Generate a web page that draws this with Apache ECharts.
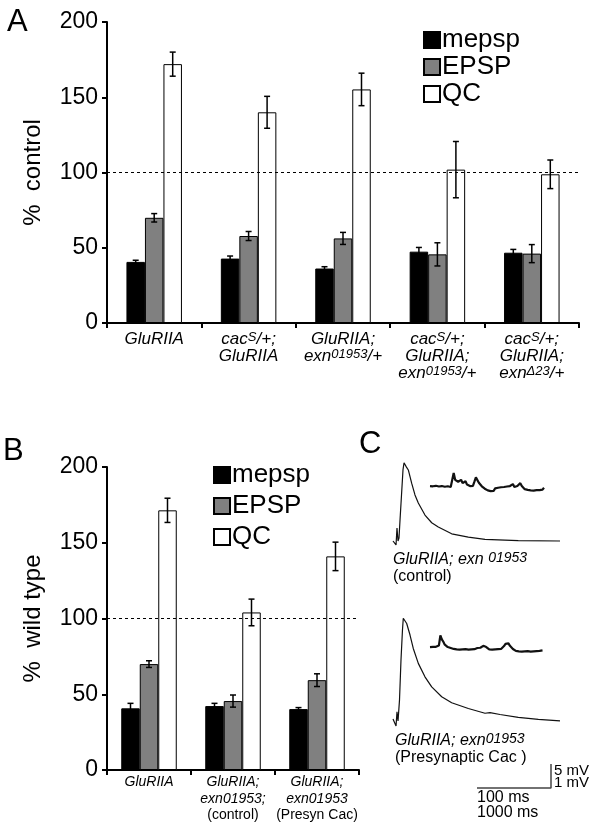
<!DOCTYPE html>
<html><head><meta charset="utf-8">
<script src="https://cdn.jsdelivr.net/npm/echarts@6/dist/echarts.min.js"></script>
<style>html,body{margin:0;padding:0;background:#fff}#c{width:602px;height:832px}</style>
</head><body><div id="c"></div>
<script>
// ---------- DATA ----------
const seriesNames = ['mepsp', 'EPSP', 'QC'];
// Panel A (% control); '^' marks a superscript run
const catsA = ['GluRIIA', 'cac^S/+;\nGluRIIA', 'GluRIIA;\nexn^01953/+', 'cac^S/+;\nGluRIIA;\nexn^01953/+', 'cac^S/+;\nGluRIIA;\nexn^Δ23/+'];
const mepspA = [40.6, 42.8, 36.2, 47.4, 46.7];
const mepspErrA = [1.1, 1.7, 1.2, 2.8, 2.2];
const epspA = [69.9, 57.8, 56.2, 45.6, 46.1];
const epspErrA = [2.8, 3.0, 4.0, 7.7, 6.0];
const qcA = [172, 140, 155.2, 101.9, 98.8];
const qcErrA = [8, 10.6, 10.8, 18.7, 9.5];
// Panel B (% wild type)
const catsB = ['GluRIIA', 'GluRIIA;\nexn01953;\n(control)', 'GluRIIA;\nexn01953\n(Presyn Cac)'];
const mepspB = [40.7, 42.2, 40.2];
const mepspErrB = [3.3, 1.8, 1.0];
const epspB = [69.9, 45.5, 59.3];
const epspErrB = [2.2, 4.0, 4.2];
const qcB = [171.4, 104, 141];
const qcErrB = [8, 8.8, 9.4];
const yMin = 0, yMax = 200, yStep = 50;
const refLevel = 100;
// Panel C traces: evoked EPSPs (ms, mV)
const epsp1Ms = [0, 2.7, 4.1, 5.4, 6.8, 8.1, 9.5, 11.5, 13.5, 14.9, 16.2, 18.2, 20.7, 25.3, 29.7, 34.2, 43.2, 52.3, 61.2, 79.3, 101.8, 124.3, 169.3, 225.7];
const epsp1Mv = [0, 0, -0.83, 2.7, 0, 0.6, 4.4, 9.6, 14.8, 16.3, 16.0, 15.4, 14.8, 12.0, 9.6, 7.9, 5.4, 3.8, 2.9, 1.5, 0.8, 0.35, 0.06, 0];
const epsp2Ms = [0, 2.7, 4.1, 5.4, 6.8, 8.8, 10.8, 12.8, 13.9, 15.5, 18.5, 23.0, 27.4, 34.2, 43.2, 52.3, 65.8, 79.3, 101.8, 124.3, 131.1, 144.6, 169.3, 196.4, 225.7];
const epsp2Mv = [0.2, 0.4, -1.25, 1.7, -0.2, 4.2, 12.5, 18.75, 21.2, 21.0, 20.1, 17.7, 14.9, 11.8, 9.0, 6.9, 4.85, 3.6, 2.4, 1.4, 1.55, 1.15, 0.55, 0.15, -0.2];
// spontaneous minis, sampled every miniStepMs (mV)
const miniStepMs = 20;
const mini1Mv = [0.04,-0.04,0.03,-0.05,0.05,-0.03,0.02,-0.06,0.04,-0.04,0.01,-0.07,0.03,-0.05,0.0,-0.03,
  0.58,0.3,0.38,0.22,0.19,0.3,0.16,0.22,0.24,0.1,0.12,0.04,0.07,0.05,0.22,0.4,0.32,0.18,0.14,0.03,0.04,-0.07,-0.05,-0.14,
  -0.12,-0.17,-0.1,-0.16,-0.06,-0.12,-0.03,-0.1,-0.01,-0.09,0.0,-0.07,0.02,-0.05,0.04,0.03,0.12,0.0,-0.04,0.04,
  0.09,0.16,0.04,-0.01,-0.09,-0.07,-0.12,-0.06,-0.14,-0.08,-0.15,-0.07,-0.13,-0.06,-0.13,-0.05,-0.11,-0.03];
const mini2Mv = [0.04,-0.04,0.05,-0.03,0.05,-0.02,0.1,0.52,0.36,0.26,0.14,0.13,0.04,0.09,0.0,0.05,-0.04,0.02,-0.06,0.01,
  -0.07,0.0,-0.06,0.02,-0.05,0.01,-0.07,0.0,-0.06,0.02,-0.05,-0.07,0.0,-0.06,0.01,0.03,0.09,0.14,0.04,0.01,
  -0.06,0.0,-0.07,-0.01,-0.06,0.0,-0.05,0.01,-0.04,0.03,0.08,0.17,0.25,0.19,0.09,0.05,-0.04,-0.05,-0.12,-0.07,
  -0.14,-0.08,-0.15,-0.08,-0.14,-0.07,-0.13,-0.08,-0.15,-0.08,-0.14,-0.07,-0.13,-0.06,-0.12,-0.05,-0.1];
// scale bar
const barMs = 100, barMv = 5;
const barLabelsV = ['5 mV', '1 mV'];
const barLabelsH = ['100 ms', '1000 ms'];
const labelC1 = ['GluRIIA; exn ', '01953', '(control)'];
const labelC2 = ['GluRIIA; exn', '01953', '(Presynaptic Cac )'];

// ---------- CHART ----------
const F = '"Liberation Sans", Arial, Helvetica, sans-serif';
const BW = 18.5;
const colors = ['#000000', '#808080', '#ffffff'];

function toRich(label) {
  return label.split('\n').map(line => {
    if (line.startsWith('(')) return '{n|' + line + '}';
    return line.split(/\^([^\/;]+)/).map((p, k) => p === '' ? '' : (k % 2 ? '{s|' + p + '}' : '{i|' + p + '}')).join('');
  }).join('\n');
}

function errSeries(name, means, errs, k, xi) {
  return {
    type: 'custom', name: name + ' err', xAxisIndex: xi, yAxisIndex: xi, z: 5, silent: true,
    data: means.map((m, i) => [i, m - errs[i], m + errs[i]]),
    renderItem: (params, api) => {
      const c = api.coord([api.value(0), api.value(1)]);
      const h = api.coord([api.value(0), api.value(2)]);
      const x = c[0] + (k - 1) * BW;
      const st = { stroke: '#000', lineWidth: 1.5 };
      return { type: 'group', children: [
        { type: 'line', shape: { x1: x, y1: c[1], x2: x, y2: h[1] }, style: st },
        { type: 'line', shape: { x1: x - 3, y1: c[1], x2: x + 3, y2: c[1] }, style: st },
        { type: 'line', shape: { x1: x - 3, y1: h[1], x2: x + 3, y2: h[1] }, style: st }
      ] };
    }
  };
}

function barSeries(name, data, k, xi) {
  return {
    type: 'bar', name: name, xAxisIndex: xi, yAxisIndex: xi, data: data, barWidth: BW, barGap: '0%',
    itemStyle: { color: colors[k], borderColor: '#000', borderWidth: 1 }
  };
}

function refLineSeries(xi) {
  return {
    type: 'line', xAxisIndex: xi, yAxisIndex: xi, data: [], z: 6,
    markLine: { silent: true, symbol: ['none', 'none'], label: { show: false },
      lineStyle: { color: '#000', type: [3, 3], width: 1 }, data: [{ yAxis: refLevel }] }
  };
}

function catAxis(gi, cats, fs, lh, margin) {
  return {
    type: 'category', gridIndex: gi, data: cats,
    axisLine: { lineStyle: { color: '#000', width: 2 } },
    axisTick: { show: true, length: 5, lineStyle: { color: '#000', width: 2 } },
    axisLabel: { interval: 0, hideOverlap: false, margin: margin, formatter: v => toRich(v), color: '#000', align: 'center',
      rich: {
        i: { fontFamily: F, fontStyle: 'italic', fontSize: fs, lineHeight: lh, color: '#000', align: 'center' },
        s: { fontFamily: F, fontStyle: 'italic', fontSize: Math.round(fs * 0.75), lineHeight: 9, verticalAlign: 'top', color: '#000', align: 'center' },
        n: { fontFamily: F, fontSize: fs, lineHeight: lh, color: '#000', align: 'center' }
      } }
  };
}
function valAxis(gi, name) {
  return {
    type: 'value', gridIndex: gi, min: yMin, max: yMax, interval: yStep,
    name: name, nameLocation: 'middle', nameGap: 62, nameRotate: 90,
    nameTextStyle: { fontFamily: F, fontSize: 24, color: '#000' },
    splitLine: { show: false },
    axisLine: { show: true, lineStyle: { color: '#000', width: 2 } },
    axisTick: { show: true, length: 5, lineStyle: { color: '#000', width: 2 } },
    axisLabel: { fontFamily: F, fontSize: 23, color: '#000', margin: 9 }
  };
}
function hidden(gi, min, max) { return { type: 'value', gridIndex: gi, min: min, max: max, show: false }; }
function trace(gi, pts, w) {
  return { type: 'line', xAxisIndex: gi, yAxisIndex: gi, data: pts, symbol: 'none', clip: false,
    lineStyle: { color: '#111', width: w }, silent: true };
}

const miniPts = arr => arr.map((v, i) => [i * miniStepMs, v]);
const tStyle = { fontFamily: F, fontSize: 31, fontWeight: 'normal', color: '#000' };
const cRich = {
  i: { fontFamily: F, fontStyle: 'italic', fontWeight: 'normal', fontSize: 16, lineHeight: 17, color: '#000' },
  s: { fontFamily: F, fontStyle: 'italic', fontWeight: 'normal', fontSize: 14, lineHeight: 10, verticalAlign: 'top', color: '#000' },
  n: { fontFamily: F, fontWeight: 'normal', fontSize: 16, lineHeight: 17, color: '#000' }
};

const option = {
  animation: false,
  backgroundColor: '#fff',
  title: [
    { text: 'A', left: 7, top: 7, padding: 0, textStyle: tStyle },
    { text: 'B', left: 3, top: 436, padding: 0, textStyle: tStyle },
    { text: 'C', left: 359, top: 429, padding: 0, textStyle: tStyle },
    { text: '{i|' + labelC1[0] + '}{s|' + labelC1[1] + '}\n{n|' + labelC1[2] + '}', left: 393, top: 551, padding: 0, textStyle: { fontWeight: 'normal', rich: cRich } },
    { text: '{i|' + labelC2[0] + '}{s|' + labelC2[1] + '}\n{n|' + labelC2[2] + '}', left: 395, top: 732, padding: 0, textStyle: { fontWeight: 'normal', rich: cRich } },
    { text: barLabelsV.join('\n'), left: 554, top: 765, padding: 0, textStyle: { fontFamily: F, fontSize: 15, lineHeight: 12, fontWeight: 'normal', color: '#000' } },
    { text: barLabelsH.join('\n'), left: 477, top: 790, padding: 0, textStyle: { fontFamily: F, fontSize: 16, lineHeight: 15, fontWeight: 'normal', color: '#000' } }
  ],
  legend: [
    { data: seriesNames, orient: 'vertical', left: 423, top: 27, padding: 0, itemGap: 1, itemWidth: 16, itemHeight: 16,
      icon: 'rect', textStyle: { fontFamily: F, fontSize: 26, lineHeight: 26, color: '#000', padding: [0, 0, 0, -3] } },
    { data: seriesNames, orient: 'vertical', left: 213, top: 462, padding: 0, itemGap: 5, itemWidth: 16, itemHeight: 16,
      icon: 'rect', textStyle: { fontFamily: F, fontSize: 26, lineHeight: 26, color: '#000', padding: [0, 0, 0, -3] } }
  ],
  grid: [
    { left: 107, top: 22, width: 472, height: 301 },
    { left: 107, top: 467, width: 252, height: 303 },
    { left: 393, top: 430.6, width: 167, height: 124.8 },
    { left: 430, top: 463, width: 114, height: 36 },
    { left: 393, top: 609.6, width: 167, height: 124.8 },
    { left: 430, top: 624, width: 114, height: 36 },
    { left: 477, top: 764, width: 74, height: 24 }
  ],
  xAxis: [
    catAxis(0, catsA, 17, 17, 8),
    catAxis(1, catsB, 14, 16.5, 4),
    hidden(2, 0, 225.7), hidden(3, 0, 1540), hidden(4, 0, 225.7), hidden(5, 0, 1540), hidden(6, 0, barMs)
  ],
  yAxis: [
    valAxis(0, '%  control'),
    valAxis(1, '%  wild type'),
    hidden(2, -3, 23), hidden(3, -0.5, 1.0), hidden(4, -3, 23), hidden(5, -0.5, 1.0), hidden(6, 0, barMv)
  ],
  series: [
    barSeries('mepsp', mepspA, 0, 0), barSeries('EPSP', epspA, 1, 0), barSeries('QC', qcA, 2, 0),
    errSeries('mepsp', mepspA, mepspErrA, 0, 0), errSeries('EPSP', epspA, epspErrA, 1, 0), errSeries('QC', qcA, qcErrA, 2, 0),
    refLineSeries(0),
    barSeries('mepsp', mepspB, 0, 1), barSeries('EPSP', epspB, 1, 1), barSeries('QC', qcB, 2, 1),
    errSeries('mepsp', mepspB, mepspErrB, 0, 1), errSeries('EPSP', epspB, epspErrB, 1, 1), errSeries('QC', qcB, qcErrB, 2, 1),
    refLineSeries(1),
    trace(2, epsp1Ms.map((t, i) => [t, epsp1Mv[i]]), 1.2),
    trace(3, miniPts(mini1Mv), 2.2),
    trace(4, epsp2Ms.map((t, i) => [t, epsp2Mv[i]]), 1.2),
    trace(5, miniPts(mini2Mv), 2.2),
    { type: 'line', xAxisIndex: 6, yAxisIndex: 6, data: [[0, 0], [barMs, 0], [barMs, barMv]], symbol: 'none', clip: false,
      lineStyle: { color: '#444', width: 1.5 }, silent: true }
  ]
};
const chart = echarts.init(document.getElementById('c'));
chart.setOption(option);
</script></body></html>
